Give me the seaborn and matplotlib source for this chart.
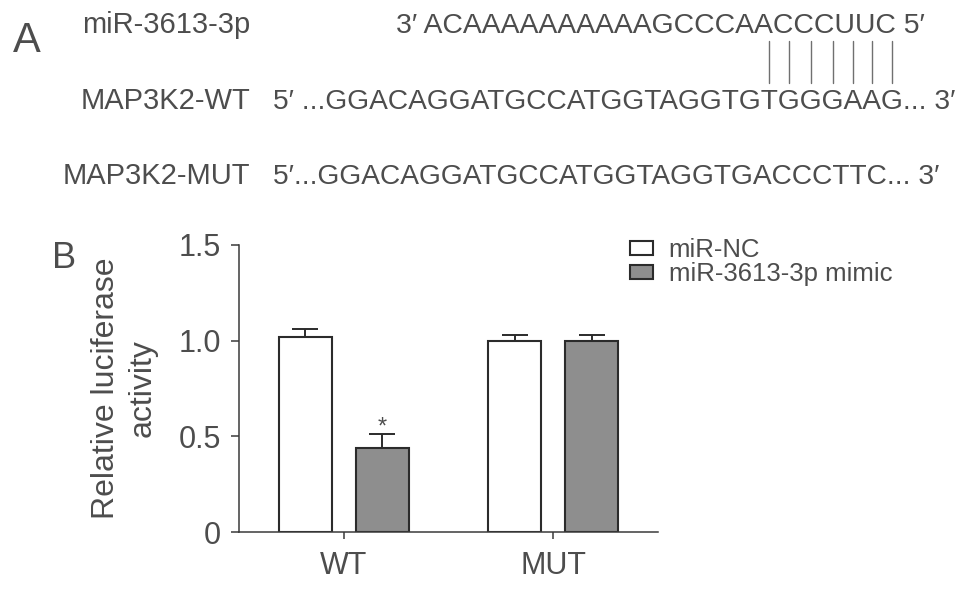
import numpy as np
import pandas as pd
import matplotlib.pyplot as plt
import seaborn as sns
from matplotlib.font_manager import FontProperties

# Panel B data
groups = ['WT', 'MUT']
conditions = ['miR-NC', 'miR-3613-3p mimic']
nc_means = [1.02, 1.00]
nc_sem = [0.04, 0.03]
mimic_means = [0.44, 1.00]
mimic_sem = [0.07, 0.03]
bar_colors = ['#ffffff', '#8e8e8e']
y_ticks = [0, 0.5, 1.0, 1.5]
y_tick_labels = ['0', '0.5', '1.0', '1.5']
star_group = 'WT'

# Panel A sequences
mir_label = 'miR-3613-3p'
mir_seq = '3\u2032 ACAAAAAAAAAAGCCCAACCCUUC 5\u2032'
wt_label = 'MAP3K2-WT'
wt_seq = '5\u2032 ...GGACAGGATGCCATGGTAGGTGTGGGAAG... 3\u2032'
mut_label = 'MAP3K2-MUT'
mut_seq = '5\u2032...GGACAGGATGCCATGGTAGGTGACCCTTC... 3\u2032'
n_pairs = 7

sns.set_style('ticks')
fonts = ['Liberation Sans', 'DejaVu Sans']
plt.rcParams['font.family'] = fonts
txt_color = '#4d4d4d'
line_color = '#3a3a3a'

W, H = 969, 592
fig = plt.figure(figsize=(W / 100, H / 100), dpi=100)
renderer = fig.canvas.get_renderer()


def fx(x):
    return x / W


def fy(y):
    return 1 - y / H


def text_w(s, size):
    fp = FontProperties(family=fonts, size=size)
    w, h, d = renderer.get_text_width_height_descent(s, fp, ismath=False)
    return w


def fit(s, target, size0=20):
    return size0 * target / text_w(s, size0)


# ---------------- panel A ----------------
fig.text(fx(13), fy(52), 'A', fontsize=30, color=txt_color, va='baseline')

lab_size = fit(mut_label, 187)
for lab, yb in [(mir_label, 33), (wt_label, 109), (mut_label, 184)]:
    fig.text(fx(250), fy(yb), lab, fontsize=lab_size, color=txt_color,
             ha='right', va='baseline')

seq_size = fit(wt_seq, 682)
x0 = 273
fig.text(fx(x0), fy(109), wt_seq, fontsize=seq_size, color=txt_color, va='baseline')
fig.text(fx(x0), fy(184), mut_seq, fontsize=seq_size, color=txt_color, va='baseline')
row1_size = fit(mir_seq, 530)
fig.text(fx(925), fy(33), mir_seq, fontsize=row1_size, color=txt_color,
         ha='right', va='baseline')

# base-pair lines under the last letters of the WT target site
site_end = wt_seq.index('...', 6)
for i in range(site_end - n_pairs, site_end):
    left = text_w(wt_seq[:i], seq_size)
    cw = text_w(wt_seq[i], seq_size)
    xc = x0 + left + cw / 2
    fig.add_artist(plt.Line2D([fx(xc), fx(xc)], [fy(41), fy(83)],
                              color='#707070', lw=1.0))

# ---------------- panel B ----------------
ax = fig.add_axes([fx(239), fy(532), (658 - 239) / W, (532 - 245) / H])

df = pd.DataFrame({
    'group': groups * 2,
    'condition': [conditions[0]] * len(groups) + [conditions[1]] * len(groups),
    'value': nc_means + mimic_means,
})

sns.barplot(data=df, x='group', y='value', hue='condition', order=groups,
            hue_order=conditions, palette=bar_colors, saturation=1,
            edgecolor='#2b2b2b', linewidth=1.5, width=0.736, gap=0.31,
            errorbar=None, ax=ax)

for cont, errs in zip(ax.containers, [nc_sem, mimic_sem]):
    xs = [b.get_x() + b.get_width() / 2 for b in cont]
    ys = [b.get_height() for b in cont]
    ax.errorbar(xs, ys, yerr=[np.zeros(len(errs)), errs], fmt='none',
                ecolor='#2b2b2b', elinewidth=1.4, capsize=9.5, capthick=1.4)

# significance star over the mimic bar of the WT group
star_bar = ax.containers[1][groups.index(star_group)]
sx = star_bar.get_x() + star_bar.get_width() / 2
sy = star_bar.get_height() + mimic_sem[groups.index(star_group)]
ax.annotate('*', xy=(sx, sy), xytext=(0, -3), textcoords='offset points',
            ha='center', va='bottom', fontsize=17, color=txt_color)

ax.set_xlim(-0.5, 1.5)
ax.set_ylim(0, 1.5)
ax.set_yticks(y_ticks)
ax.set_yticklabels(y_tick_labels)
ax.set_xlabel('')
ax.set_ylabel('Relative luciferase\nactivity', fontsize=23, color=txt_color,
              linespacing=1.3)
ax.yaxis.label.set_va('center')
ax.yaxis.set_label_coords((124.5 - 239) / 419, 0.5)

ax.tick_params(axis='y', labelsize=22, length=6, width=1.1, pad=7,
               colors=line_color, labelcolor=txt_color)
ax.tick_params(axis='x', labelsize=22, length=5, width=1.1, pad=9,
               colors=line_color, labelcolor=txt_color)
for side in ['left', 'bottom']:
    ax.spines[side].set_color(line_color)
    ax.spines[side].set_linewidth(1.1)
sns.despine(ax=ax)

handles, labels = ax.get_legend_handles_labels()
ax.legend(handles, labels, loc='upper left', bbox_to_anchor=(fx(630), fy(238)),
          bbox_transform=fig.transFigure, frameon=False, fontsize=18.5,
          handlelength=0.9, handleheight=0.5, handletextpad=0.6,
          labelspacing=0.0, borderpad=0, borderaxespad=0, labelcolor=txt_color)

fig.text(fx(52), fy(268), 'B', fontsize=26, color=txt_color, va='baseline')

fig.savefig('out.png', dpi=100)
